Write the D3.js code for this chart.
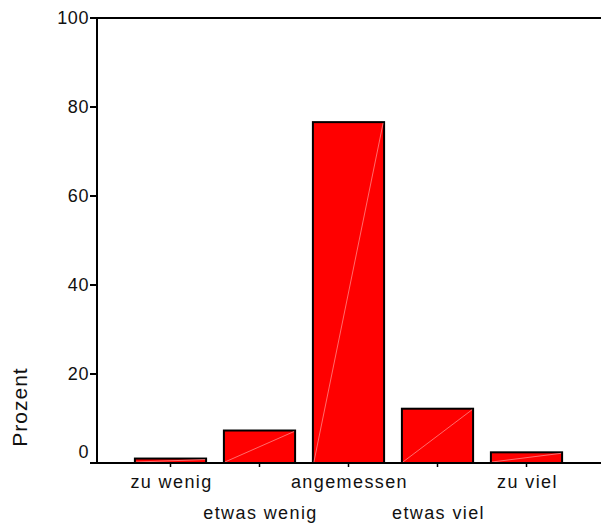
<!DOCTYPE html>
<html>
<head>
<meta charset="utf-8">
<script src="https://cdn.jsdelivr.net/npm/d3@7"></script>
<style>
  html, body { margin: 0; padding: 0; background: #fff; }
  svg { display: block; }
  text { font-family: "Liberation Sans", Arial, sans-serif; fill: #111; }
</style>
</head>
<body>
<svg id="chart" width="601" height="527"></svg>
<script>
const categories = ["zu wenig", "etwas wenig", "angemessen", "etwas viel", "zu viel"];
const values = [1.0, 7.3, 76.6, 12.2, 2.4];
const yTicks = [0, 20, 40, 60, 80, 100];
const yLabel = "Prozent";

const svg = d3.select("#chart");
const x = d3.scaleBand().domain(categories).range([126, 571]).paddingInner(0.2).paddingOuter(0.1);
const y = d3.scaleLinear().domain([0, 100]).range([463, 18]);

// bars
const g = svg.append("g");
g.selectAll("rect.bar").data(values).enter().append("rect")
  .attr("class", "bar")
  .attr("x", (d, i) => x(categories[i]))
  .attr("y", d => y(d))
  .attr("width", x.bandwidth())
  .attr("height", d => y(0) - y(d))
  .attr("fill", "#ff0000")
  .attr("stroke", "#000")
  .attr("stroke-width", 2);
// faint diagonal artifacts
g.selectAll("line.diag").data(values).enter().append("line")
  .attr("x1", (d, i) => x(categories[i]) + 1)
  .attr("y1", y(0) - 1)
  .attr("x2", (d, i) => x(categories[i]) + x.bandwidth() - 1)
  .attr("y2", d => y(d) + 1)
  .attr("stroke", "#ff9a9a")
  .attr("stroke-width", 0.7);

// y axis
const yAxis = svg.append("g");
yAxis.append("line").attr("x1", 97).attr("x2", 97).attr("y1", y(100)).attr("y2", y(0))
  .attr("stroke", "#000").attr("stroke-width", 2);
yAxis.append("line").attr("x1", 96).attr("x2", 601).attr("y1", y(100)).attr("y2", y(100))
  .attr("stroke", "#000").attr("stroke-width", 2);
yAxis.selectAll("line.tick").data(yTicks).enter().append("line")
  .attr("x1", 90).attr("x2", 97)
  .attr("y1", d => y(d)).attr("y2", d => y(d))
  .attr("stroke", "#000").attr("stroke-width", 2);
yAxis.selectAll("text").data(yTicks).enter().append("text")
  .attr("x", 89)
  .attr("y", d => d === 0 ? y(d) - 11 : y(d))
  .attr("dy", "0.35em")
  .attr("text-anchor", "end")
  .style("font-size", "18px")
  .style("letter-spacing", "0.6px")
  .text(d => d);

// x axis
const xAxis = svg.append("g");
xAxis.append("line").attr("x1", 90).attr("x2", 601).attr("y1", y(0)).attr("y2", y(0))
  .attr("stroke", "#000").attr("stroke-width", 2);
xAxis.selectAll("line.tick").data(categories).enter().append("line")
  .attr("x1", d => x(d) + x.bandwidth() / 2).attr("x2", d => x(d) + x.bandwidth() / 2)
  .attr("y1", y(0)).attr("y2", y(0) + 4)
  .attr("stroke", "#000").attr("stroke-width", 1.5);
xAxis.selectAll("text").data(categories).enter().append("text")
  .attr("x", d => x(d) + x.bandwidth() / 2 + 1)
  .attr("y", (d, i) => i % 2 === 0 ? 488 : 519)
  .attr("text-anchor", "middle")
  .style("font-size", "18px")
  .style("letter-spacing", "1.4px")
  .text(d => d);

// y label
svg.append("text")
  .attr("transform", "translate(27,407) rotate(-90)")
  .attr("text-anchor", "middle")
  .style("font-size", "21px")
  .style("letter-spacing", "1px")
  .text(yLabel);
</script>
</body>
</html>
